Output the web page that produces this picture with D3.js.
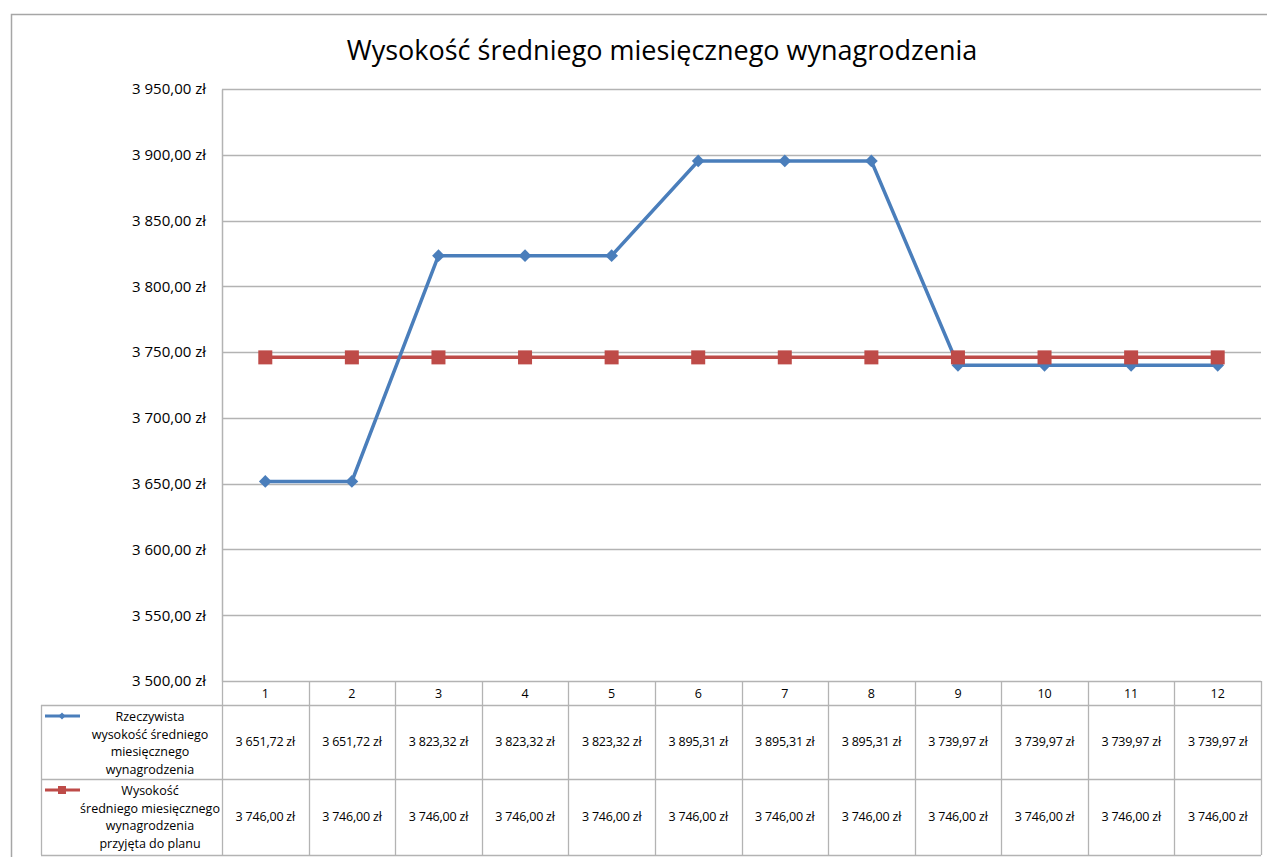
<!DOCTYPE html>
<html>
<head>
<meta charset="utf-8">
<script src="https://cdn.jsdelivr.net/npm/d3@7"></script>
<style>
body { margin: 0; background: #fff; }
svg text { font-family: "Open Sans", "DejaVu Sans", sans-serif; fill: #000; }
</style>
</head>
<body>
<script>
// dane
var months = [1, 2, 3, 4, 5, 6, 7, 8, 9, 10, 11, 12];
var actual = [3651.72, 3651.72, 3823.32, 3823.32, 3823.32, 3895.31, 3895.31, 3895.31, 3739.97, 3739.97, 3739.97, 3739.97];
var planned = [3746.00, 3746.00, 3746.00, 3746.00, 3746.00, 3746.00, 3746.00, 3746.00, 3746.00, 3746.00, 3746.00, 3746.00];
var yTicks = [3500, 3550, 3600, 3650, 3700, 3750, 3800, 3850, 3900, 3950];
var seriesNames = [
  ["Rzeczywista", "wysokość średniego", "miesięcznego", "wynagrodzenia"],
  ["Wysokość", "średniego miesięcznego", "wynagrodzenia", "przyjęta do planu"]
];
var title = "Wysokość średniego miesięcznego wynagrodzenia";

var w = 1267, h = 857;
var plotLeft = 222, plotRight = 1261, plotTop = 89, plotBottom = 681;
var tableLeft = 41;
var rowH = [24, 74, 76]; // nagłówek, seria 1, seria 2
var blue = "#4a7ebb", red = "#be4b48", grid = "#b3b3b3";

var svg = d3.select("body").append("svg")
  .attr("width", w)
  .attr("height", h);

// ramka wykresu
svg.append("rect")
  .attr("x", 11.5).attr("y", 14.5)
  .attr("width", 1300).attr("height", 900)
  .attr("fill", "none").attr("stroke", "#a6a6a6").attr("stroke-width", 1.5);

svg.append("text")
  .attr("x", 662).attr("y", 60)
  .attr("text-anchor", "middle")
  .attr("font-size", "27px")
  .text(title);

var xScale = d3.scaleBand()
  .domain(months)
  .range([plotLeft, plotRight]);

var yScale = d3.scaleLinear()
  .domain([3500, 3950])
  .range([plotBottom, plotTop]);

// siatka
svg.append("g").selectAll("line")
  .data(yTicks.slice(1))
  .enter().append("line")
  .attr("x1", plotLeft).attr("x2", plotRight)
  .attr("y1", function(d) { return Math.round(yScale(d)) + 0.5; })
  .attr("y2", function(d) { return Math.round(yScale(d)) + 0.5; })
  .attr("stroke", grid).attr("stroke-width", 1.3);

// oś Y
var fmt = function(d) {
  var s = d3.format(",.2f")(d);
  return s.replace(",", " ").replace(".", ",") + " zł";
};
var yAxis = d3.axisLeft(yScale)
  .tickValues(yTicks)
  .tickSize(0)
  .tickPadding(16)
  .tickFormat(fmt);
var yg = svg.append("g")
  .attr("transform", "translate(" + plotLeft + ",0)")
  .call(yAxis);
yg.select(".domain").attr("stroke", grid).attr("stroke-width", 1.5);
yg.selectAll("text")
  .attr("font-size", "15px")
  .attr("font-family", "Open Sans, sans-serif")
  .attr("fill", "#000");

// tabela danych
var tg = svg.append("g");
var y0 = plotBottom, y1 = plotBottom + rowH[0], y2 = y1 + rowH[1], y3 = y2 + rowH[2];
var hl = [
  [plotLeft, plotRight, y0],
  [tableLeft, plotRight, y1],
  [tableLeft, plotRight, y2],
  [tableLeft, plotRight, y3]
];
tg.selectAll("line.h").data(hl).enter().append("line")
  .attr("x1", function(d) { return d[0]; })
  .attr("x2", function(d) { return d[1]; })
  .attr("y1", function(d) { return d[2] + 0.5; })
  .attr("y2", function(d) { return d[2] + 0.5; })
  .attr("stroke", grid).attr("stroke-width", 1.3);
var bounds = months.map(function(m) { return xScale(m); }).concat([plotRight]);
tg.selectAll("line.v").data(bounds).enter().append("line")
  .attr("x1", function(d) { return Math.round(d) + 0.5; })
  .attr("x2", function(d) { return Math.round(d) + 0.5; })
  .attr("y1", y0).attr("y2", y3)
  .attr("stroke", grid).attr("stroke-width", 1.3);
tg.append("line")
  .attr("x1", tableLeft + 0.5).attr("x2", tableLeft + 0.5)
  .attr("y1", y1).attr("y2", y3)
  .attr("stroke", grid).attr("stroke-width", 1.3);

// nagłówki miesięcy
tg.selectAll("text.m").data(months).enter().append("text")
  .attr("x", function(d) { return xScale(d) + xScale.bandwidth() / 2; })
  .attr("y", y0 + 17)
  .attr("text-anchor", "middle")
  .attr("font-size", "12.5px")
  .text(function(d) { return d; });

[actual, planned].forEach(function(series, si) {
  var cy = si === 0 ? (y1 + y2) / 2 : (y2 + y3) / 2;
  tg.selectAll("text.v" + si).data(series).enter().append("text")
    .attr("x", function(d, i) { return xScale(months[i]) + xScale.bandwidth() / 2; })
    .attr("y", cy + 4)
    .attr("text-anchor", "middle")
    .attr("font-size", "12.5px")
    .attr("letter-spacing", "-0.2px")
    .text(fmt);
});

// legenda w tabeli
var legendColors = [blue, red];
seriesNames.forEach(function(lines, si) {
  var top0 = si === 0 ? y1 : y2;
  var ly = top0 + 11;
  var col = legendColors[si];
  tg.append("line")
    .attr("x1", 45).attr("x2", 80)
    .attr("y1", ly).attr("y2", ly)
    .attr("stroke", col).attr("stroke-width", 3);
  if (si === 0) {
    tg.append("rect")
      .attr("x", -2.5).attr("y", -2.5)
      .attr("width", 5).attr("height", 5)
      .attr("transform", "translate(62," + ly + ") rotate(45)")
      .attr("fill", col);
  } else {
    tg.append("rect")
      .attr("x", 58).attr("y", ly - 4)
      .attr("width", 8).attr("height", 8)
      .attr("fill", col);
  }
  tg.selectAll("text.l" + si).data(lines).enter().append("text")
    .attr("x", 150)
    .attr("y", function(d, i) { return top0 + 16 + i * 17.5; })
    .attr("text-anchor", "middle")
    .attr("font-size", "12.5px")
    .text(function(d) { return d; });
});

// linie serii
var line = d3.line()
  .x(function(d, i) { return xScale(months[i]) + xScale.bandwidth() / 2; })
  .y(function(d) { return yScale(d); });

svg.append("path")
  .datum(planned)
  .attr("d", line)
  .attr("fill", "none")
  .attr("stroke", red)
  .attr("stroke-width", 3.5);

svg.append("path")
  .datum(actual)
  .attr("d", line)
  .attr("fill", "none")
  .attr("stroke", blue)
  .attr("stroke-width", 3.5);

svg.selectAll("rect.dm").data(actual).enter().append("rect")
  .attr("x", -4.5).attr("y", -4.5)
  .attr("width", 9).attr("height", 9)
  .attr("transform", function(d, i) {
    return "translate(" + (xScale(months[i]) + xScale.bandwidth() / 2) + "," + yScale(d) + ") rotate(45)";
  })
  .attr("fill", blue);

svg.selectAll("rect.sq").data(planned).enter().append("rect")
  .attr("x", function(d, i) { return xScale(months[i]) + xScale.bandwidth() / 2 - 7; })
  .attr("y", function(d) { return yScale(d) - 7; })
  .attr("width", 14).attr("height", 14)
  .attr("fill", red);
</script>
</body>
</html>
